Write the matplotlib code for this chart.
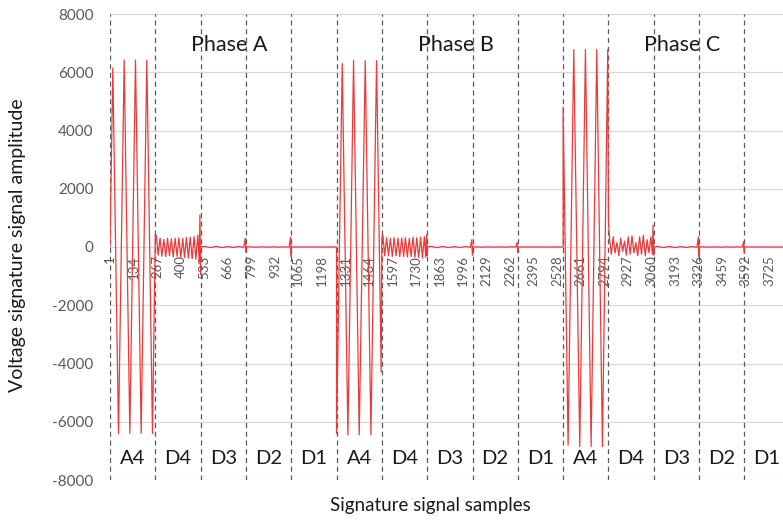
import numpy as np
import matplotlib.pyplot as plt

plt.rcParams['font.family'] = ['Lato', 'DejaVu Sans']
plt.rcParams['axes.unicode_minus'] = False

phases = ['Phase A', 'Phase B', 'Phase C']
bands = ['A4', 'D4', 'D3', 'D2', 'D1']
band_len = 256

# A4 approximation coefficients: vertex offsets inside the band and amplitudes
a4_off_a = [0, 16, 48, 80, 112, 144, 176, 208, 240, 256]
a4_val_a = [0, 6150, -6400, 6420, -6400, 6420, -6400, 6420, -6400, 450]
a4_off_b = [0, 32, 64, 96, 128, 162, 194, 226, 252, 256]
a4_val_b = [-6400, 6300, -6450, 6400, -6450, 6400, -6450, 6400, -4300, 350]
a4_off_c = [0, 28, 60, 94, 126, 158, 190, 222, 252, 256]
a4_val_c = [4800, -6800, 6780, -6850, 6780, -6850, 6780, -6850, 6780, 900]

# D4 detail coefficients
d4_off = [0, 6, 16, 27, 37, 48, 59, 69, 80, 91, 101, 112, 123, 133,
          144, 155, 165, 176, 187, 197, 208, 219, 229, 240, 248, 252, 256]
d4_val_a = [450, 380, -280, 300, -320, 260, -330, 300, -300, 280, -340, 300, -320, 320,
            -350, 300, -360, 330, -380, 340, -400, 360, -420, 400, -500, 1100, -950]
d4_val_b = [350, 400, -300, 320, -300, 300, -330, 320, -300, 300, -330, 310, -320, 320,
            -340, 300, -330, 330, -350, 320, -360, 340, -380, 350, -350, 420, -300]
d4_val_c = [900, 300, -250, 350, -200, 150, -300, 300, -150, 200, -280, 350, -250, 380,
            -200, 150, -300, 350, -250, 400, -300, 250, -200, 350, -250, 750, -280]

# D3, D2, D1 detail coefficients (almost flat, spike at band end)
flat_off = [0, 24, 56, 88, 120, 152, 184, 216, 244, 252, 256]
d3_val_a = [0, 20, -20, 20, -20, 15, -15, 15, -10, 300, -170]
d3_val_b = [0, 20, -20, 20, -20, 15, -15, 15, -10, 250, -280]
d3_val_c = [0, 20, -20, 20, -20, 15, -15, 15, -10, 350, -330]
d2_val_a = [0, 5, -5, 5, -5, 5, -5, 5, 0, 340, -330]
d2_val_b = [0, 5, -5, 5, -5, 5, -5, 5, 0, 150, -200]
d2_val_c = [0, 5, -5, 5, -5, 5, -5, 5, 0, 180, -220]
d1_val = [0, 0, 0, 0, 0, 0, 0, 0, 0, 0, 0]

x_ticks = [1, 134, 267, 400, 533, 666, 799, 932, 1065, 1198, 1331, 1464, 1597, 1730,
           1863, 1996, 2129, 2262, 2395, 2528, 2661, 2794, 2927, 3060, 3193, 3326,
           3459, 3592, 3725]
y_ticks = [-8000, -6000, -4000, -2000, 0, 2000, 4000, 6000, 8000]

series = [
    [(a4_off_a, a4_val_a), (d4_off, d4_val_a), (flat_off, d3_val_a), (flat_off, d2_val_a), (flat_off, d1_val)],
    [(a4_off_b, a4_val_b), (d4_off, d4_val_b), (flat_off, d3_val_b), (flat_off, d2_val_b), (flat_off, d1_val)],
    [(a4_off_c, a4_val_c), (d4_off, d4_val_c), (flat_off, d3_val_c), (flat_off, d2_val_c), (flat_off, d1_val)],
]

xs, ys = [], []
for i, phase in enumerate(series):
    for j, (off, val) in enumerate(phase):
        start = 1 + (i * len(bands) + j) * band_len
        xs.extend(start + np.array(off))
        ys.extend(val)

fig = plt.figure(figsize=(7.83, 5.21), dpi=100)
ax = fig.add_axes([110 / 783, 41 / 521, 679.7 / 783, 466 / 521])
ax.set_xlim(1, 1 + len(phases) * len(bands) * band_len)
ax.set_ylim(-8000, 8000)

ax.set_yticks(y_ticks)
ax.yaxis.grid(True, color='#d9d9d9', lw=0.9)
ax.set_axisbelow(True)
for s in ax.spines.values():
    s.set_visible(False)
ax.spines['bottom'].set_position(('data', 0))
ax.set_xticks(x_ticks)
ax.tick_params(axis='x', length=0, pad=6, labelrotation=90, labelsize=9.5, colors='#595959')
ax.tick_params(axis='y', length=0, pad=12, labelsize=11, colors='#595959')

# band separators and band names
gray = '#595959'
for k in range(len(phases) * len(bands)):
    start = 1 + k * band_len
    ax.axvline(start, color=gray, lw=0.9, ls=(0, (4, 3)), zorder=1)
    ax.text(start + band_len / 2, -7250, bands[k % len(bands)], ha='center', va='center',
            fontsize=14.5, color='#1a1a1a')

for i, name in enumerate(phases):
    ax.text(1 + i * len(bands) * band_len + 672, 6950, name, ha='center', va='center',
            fontsize=15.5, color='#1a1a1a')

ax.plot(xs, ys, color='#ea3a3a', lw=0.9, zorder=3)

fig.text(18 / 783, 1 - 245 / 521, 'Voltage signature signal amplitude', rotation=90,
         ha='center', va='center', fontsize=14, color='#1a1a1a')
fig.text(430 / 783, 1 - 505 / 521, 'Signature signal samples', ha='center', va='center',
         fontsize=13.5, color='#1a1a1a')

fig.savefig('out.png', dpi=100)
